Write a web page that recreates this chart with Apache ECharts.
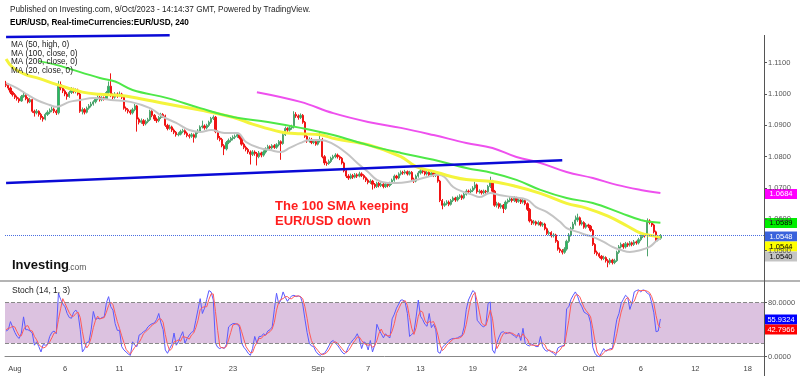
<!DOCTYPE html>
<html>
<head>
<meta charset="utf-8">
<script src="https://cdn.jsdelivr.net/npm/echarts@6/dist/echarts.min.js"></script>
<style>
  html, body { margin: 0; padding: 0; background: #fff; }
  #chart { width: 800px; height: 376px; }
</style>
</head>
<body>
<div id="chart"></div>
<script>
// EUR/USD 4H bars, 31 Jul - 9 Oct 2023
const firstOpen = 1.1035;
const closes = [
  1.1028,1.1019,1.1006,
  1.0998,1.0990,1.0985,1.0978,1.0992,1.0996,
  1.0985,1.0975,1.0982,1.0945,1.0940,1.0945,
  1.0935,1.0925,1.0920,1.0935,1.0942,1.0948,
  1.0952,1.0945,1.0940,1.1030,1.1020,1.1010,
  1.1000,1.0992,1.1005,1.1015,1.1008,1.1012,
  1.1000,1.0945,1.0950,1.0942,1.0955,1.0962,
  1.0968,1.0975,1.0985,1.0990,1.0982,1.0988,
  1.0985,1.1005,1.1025,1.0995,1.0990,1.1000,
  1.0995,1.1000,1.0990,1.0955,1.0950,1.0945,
  1.0940,1.0950,1.0962,1.0920,1.0910,1.0915,
  1.0905,1.0912,1.0918,1.0945,1.0932,1.0920,
  1.0915,1.0925,1.0935,1.0930,1.0900,1.0890,
  1.0895,1.0885,1.0878,1.0870,1.0872,1.0880,
  1.0883,1.0875,1.0868,1.0865,1.0870,1.0862,
  1.0878,1.0882,1.0895,1.0898,1.0892,1.0900,
  1.0910,1.0922,1.0926,1.0880,1.0860,1.0855,
  1.0835,1.0825,1.0845,1.0852,1.0858,1.0862,
  1.0865,1.0870,1.0860,1.0840,1.0830,1.0823,
  1.0815,1.0808,1.0815,1.0810,1.0800,1.0812,
  1.0805,1.0815,1.0825,1.0832,1.0828,1.0835,
  1.0830,1.0838,1.0848,1.0842,1.0870,1.0890,
  1.0885,1.0892,1.0895,1.0935,1.0930,1.0925,
  1.0932,1.0910,1.0865,1.0850,1.0855,1.0845,
  1.0848,1.0840,1.0850,1.0855,1.0800,1.0780,
  1.0778,1.0785,1.0795,1.0800,1.0805,1.0800,
  1.0795,1.0780,1.0755,1.0738,1.0732,1.0740,
  1.0735,1.0742,1.0738,1.0745,1.0740,1.0733,
  1.0725,1.0718,1.0722,1.0712,1.0705,1.0715,
  1.0708,1.0712,1.0705,1.0712,1.0708,1.0715,
  1.0725,1.0738,1.0732,1.0745,1.0750,1.0748,
  1.0752,1.0745,1.0750,1.0728,1.0722,1.0738,
  1.0748,1.0755,1.0752,1.0745,1.0750,1.0742,
  1.0748,1.0740,1.0745,1.0722,1.0660,1.0645,
  1.0650,1.0655,1.0648,1.0660,1.0668,1.0662,
  1.0670,1.0675,1.0668,1.0680,1.0690,1.0688,
  1.0692,1.0700,1.0710,1.0688,1.0690,1.0685,
  1.0690,1.0688,1.0705,1.0722,1.0690,1.0645,
  1.0650,1.0640,1.0645,1.0635,1.0655,1.0660,
  1.0665,1.0660,1.0668,1.0658,1.0662,1.0655,
  1.0660,1.0650,1.0632,1.0595,1.0588,1.0592,
  1.0585,1.0590,1.0582,1.0585,1.0570,1.0555,
  1.0558,1.0548,1.0550,1.0530,1.0505,1.0500,
  1.0495,1.0505,1.0530,1.0550,1.0570,1.0585,
  1.0598,1.0605,1.0585,1.0590,1.0575,1.0582,
  1.0578,1.0565,1.0520,1.0495,1.0490,1.0482,
  1.0475,1.0478,1.0468,1.0462,1.0470,1.0462,
  1.0468,1.0495,1.0512,1.0520,1.0512,1.0522,
  1.0518,1.0525,1.0520,1.0528,1.0525,1.0535,
  1.0545,1.0550,1.0548,1.0595,1.0590,1.0582,
  1.0560,1.0535,1.0540,1.0548
];
const highs = [
  1.1042,1.1033,1.1024,
  1.1010,1.1003,1.0995,1.0989,1.0997,1.1008,
  1.1000,1.0990,1.0988,1.0985,1.0950,1.0952,
  1.0948,1.0940,1.0930,1.0940,1.0948,1.0954,
  1.0960,1.0957,1.0950,1.1042,1.1040,1.1026,
  1.1015,1.1006,1.1010,1.1022,1.1020,1.1018,
  1.1017,1.1004,1.0957,1.0955,1.0960,1.0968,
  1.0975,1.0980,1.0990,1.0996,1.0994,1.0993,
  1.0992,1.1010,1.1040,1.1066,1.1002,1.1006,
  1.1005,1.1008,1.1004,1.0994,1.0960,1.0955,
  1.0950,1.0956,1.0968,1.0965,1.0925,1.0922,
  1.0920,1.0918,1.0924,1.0950,1.0948,1.0936,
  1.0925,1.0930,1.0940,1.0939,1.0934,1.0905,
  1.0902,1.0899,1.0890,1.0882,1.0878,1.0886,
  1.0889,1.0887,1.0880,1.0873,1.0876,1.0874,
  1.0882,1.0888,1.0900,1.0915,1.0903,1.0905,
  1.0915,1.0927,1.0932,1.0930,1.0884,1.0866,
  1.0860,1.0840,1.0850,1.0858,1.0863,1.0868,
  1.0871,1.0876,1.0874,1.0864,1.0845,1.0835,
  1.0828,1.0820,1.0821,1.0820,1.0815,1.0818,
  1.0816,1.0820,1.0830,1.0838,1.0836,1.0840,
  1.0840,1.0843,1.0853,1.0852,1.0875,1.0896,
  1.0894,1.0898,1.0902,1.0945,1.0942,1.0935,
  1.0938,1.0936,1.0914,1.0870,1.0862,1.0860,
  1.0854,1.0852,1.0856,1.0882,1.0860,1.0805,
  1.0785,1.0791,1.0800,1.0806,1.0811,1.0810,
  1.0804,1.0799,1.0784,1.0760,1.0744,1.0746,
  1.0745,1.0748,1.0747,1.0752,1.0750,1.0744,
  1.0737,1.0730,1.0728,1.0726,1.0716,1.0720,
  1.0719,1.0718,1.0716,1.0717,1.0716,1.0720,
  1.0730,1.0743,1.0742,1.0750,1.0756,1.0755,
  1.0758,1.0756,1.0755,1.0754,1.0733,1.0743,
  1.0754,1.0765,1.0760,1.0756,1.0755,1.0754,
  1.0753,1.0752,1.0750,1.0749,1.0726,1.0665,
  1.0657,1.0661,1.0660,1.0665,1.0673,1.0672,
  1.0676,1.0680,1.0679,1.0685,1.0696,1.0695,
  1.0698,1.0706,1.0720,1.0714,1.0696,1.0694,
  1.0695,1.0694,1.0710,1.0736,1.0726,1.0694,
  1.0656,1.0654,1.0651,1.0649,1.0660,1.0666,
  1.0671,1.0669,1.0674,1.0672,1.0668,1.0666,
  1.0666,1.0664,1.0654,1.0636,1.0600,1.0598,
  1.0596,1.0596,1.0594,1.0590,1.0589,1.0574,
  1.0564,1.0562,1.0556,1.0554,1.0534,1.0510,
  1.0505,1.0511,1.0535,1.0556,1.0576,1.0592,
  1.0612,1.0618,1.0609,1.0597,1.0594,1.0588,
  1.0586,1.0582,1.0569,1.0524,1.0500,1.0494,
  1.0486,1.0484,1.0482,1.0473,1.0476,1.0474,
  1.0474,1.0500,1.0518,1.0526,1.0524,1.0528,
  1.0526,1.0531,1.0529,1.0534,1.0532,1.0541,
  1.0551,1.0556,1.0554,1.0603,1.0600,1.0594,
  1.0586,1.0564,1.0546,1.0553
];
const lows = [
  1.1022,1.1012,1.1000,
  1.0992,1.0984,1.0979,1.0972,1.0975,1.0988,
  1.0980,1.0970,1.0971,1.0940,1.0928,1.0935,
  1.0928,1.0918,1.0912,1.0916,1.0930,1.0936,
  1.0942,1.0939,1.0933,1.0935,1.1012,1.1003,
  1.0993,1.0982,1.0988,1.1000,1.1002,1.1002,
  1.0995,1.0940,1.0935,1.0935,1.0938,1.0950,
  1.0957,1.0963,1.0970,1.0980,1.0976,1.0977,
  1.0979,1.0982,1.1000,1.0990,1.0983,1.0985,
  1.0988,1.0990,1.0984,1.0950,1.0944,1.0938,
  1.0934,1.0935,1.0945,1.0880,1.0903,1.0905,
  1.0898,1.0900,1.0907,1.0914,1.0926,1.0914,
  1.0908,1.0910,1.0920,1.0924,1.0895,1.0884,
  1.0886,1.0879,1.0872,1.0864,1.0865,1.0868,
  1.0875,1.0870,1.0862,1.0858,1.0860,1.0845,
  1.0858,1.0873,1.0878,1.0890,1.0886,1.0887,
  1.0895,1.0905,1.0917,1.0875,1.0854,1.0849,
  1.0830,1.0805,1.0820,1.0840,1.0846,1.0852,
  1.0856,1.0860,1.0855,1.0835,1.0824,1.0817,
  1.0809,1.0775,1.0802,1.0803,1.0772,1.0795,
  1.0798,1.0800,1.0810,1.0820,1.0822,1.0823,
  1.0825,1.0825,1.0833,1.0790,1.0838,1.0866,
  1.0879,1.0880,1.0886,1.0890,1.0924,1.0918,
  1.0920,1.0905,1.0860,1.0844,1.0845,1.0840,
  1.0840,1.0835,1.0836,1.0845,1.0795,1.0773,
  1.0771,1.0774,1.0780,1.0790,1.0795,1.0794,
  1.0789,1.0775,1.0750,1.0732,1.0726,1.0728,
  1.0729,1.0731,1.0732,1.0734,1.0735,1.0727,
  1.0719,1.0712,1.0713,1.0695,1.0699,1.0700,
  1.0702,1.0703,1.0699,1.0700,1.0702,1.0703,
  1.0710,1.0720,1.0727,1.0728,1.0740,1.0742,
  1.0743,1.0740,1.0740,1.0722,1.0716,1.0718,
  1.0733,1.0743,1.0746,1.0740,1.0740,1.0737,
  1.0737,1.0735,1.0735,1.0717,1.0655,1.0632,
  1.0640,1.0645,1.0642,1.0644,1.0655,1.0656,
  1.0657,1.0665,1.0662,1.0664,1.0676,1.0682,
  1.0683,1.0687,1.0695,1.0682,1.0682,1.0679,
  1.0680,1.0682,1.0684,1.0700,1.0685,1.0640,
  1.0638,1.0634,1.0634,1.0620,1.0630,1.0650,
  1.0655,1.0654,1.0655,1.0652,1.0653,1.0649,
  1.0650,1.0645,1.0627,1.0590,1.0582,1.0583,
  1.0580,1.0580,1.0577,1.0576,1.0565,1.0550,
  1.0549,1.0542,1.0542,1.0525,1.0500,1.0493,
  1.0488,1.0490,1.0500,1.0525,1.0545,1.0565,
  1.0580,1.0592,1.0580,1.0580,1.0570,1.0570,
  1.0572,1.0560,1.0515,1.0489,1.0484,1.0476,
  1.0469,1.0470,1.0462,1.0447,1.0456,1.0456,
  1.0457,1.0464,1.0490,1.0507,1.0506,1.0507,
  1.0512,1.0513,1.0514,1.0515,1.0519,1.0520,
  1.0530,1.0540,1.0542,1.0482,1.0584,1.0576,
  1.0555,1.0530,1.0530,1.0535
];

// moving averages, read as [bar, price] points
const ma50High = [[0,1.1112],[3,1.1085],[9,1.1062],[15,1.1050],[23,1.1031],[35,1.1006],[43,1.0999],
  [51,1.0996],[58,1.0990],[74,1.0968],[89,1.0949],[104,1.0926],[113,1.0904],[126,1.0879],[135,1.0873],
  [144,1.0870],[151,1.0857],[166,1.0838],[181,1.0800],[188,1.0768],[196,1.0753],[204,1.0737],
  [211,1.0727],[223,1.0721],[234,1.0705],[245,1.0683],[257,1.0651],[266,1.0636],[276,1.0610],
  [285,1.0578],[291,1.0556],[300,1.0544]];
const ma100 = [[15,1.1105],[23,1.1093],[43,1.1051],[50,1.1040],[58,1.1013],[74,1.0987],[89,1.0955],
  [104,1.0927],[120,1.0911],[135,1.0892],[150,1.0869],[166,1.0837],[181,1.0812],[196,1.0790],
  [211,1.0764],[223,1.0748],[234,1.0726],[245,1.0694],[257,1.0668],[269,1.0652],[282,1.0620],
  [291,1.0598],[300,1.0589]];
const ma200 = [[115,1.1006],[135,1.0975],[150,1.0939],[166,1.0911],[181,1.0892],[196,1.0869],
  [211,1.0844],[223,1.0828],[234,1.0799],[245,1.0780],[257,1.0751],[269,1.0732],[280,1.0710],
  [291,1.0694],[300,1.0684]];
const ma20 = [[0,1.1035],[5,1.1019],[10,1.0997],[14,1.0981],[20,1.0965],[23,1.0959],[29,1.0975],
  [34,1.0981],[40,1.0987],[48,1.0981],[57,1.0975],[66,1.0955],[72,1.0927],[78,1.0908],[84,1.0885],
  [89,1.0879],[94,1.0885],[100,1.0876],[106,1.0876],[110,1.0847],[116,1.0828],[121,1.0821],
  [126,1.0815],[130,1.0828],[135,1.0844],[139,1.0853],[144,1.0853],[149,1.0844],[156,1.0812],
  [161,1.0780],[166,1.0751],[170,1.0726],[175,1.0716],[179,1.0716],[184,1.0719],[188,1.0726],
  [193,1.0735],[198,1.0742],[201,1.0735],[205,1.0703],[210,1.0687],[214,1.0678],[217,1.0671],
  [222,1.0684],[226,1.0678],[232,1.0671],[239,1.0662],[243,1.0639],[248,1.0623],[254,1.0592],
  [257,1.0572],[262,1.0560],[266,1.0550],[269,1.0544],[274,1.0528],[278,1.0512],[282,1.0502],
  [286,1.0496],[291,1.0502],[295,1.0512],[298,1.0530],[300,1.0540]];

// drawn trend lines
const trendTop = [[0,1.1182],[75,1.1188]];
const trendLow = [[0,1.0716],[255,1.0789]];

// Stochastic (14,1,3)
const stochK = [
  38,40,52, 44,36,30,27,35,59, 40,40,38,35,17,22, 15,7,18,17,18,30, 36,38,34,94,85,78,
  74,64,58,57,66,69, 64,40,7,12,21,22, 40,67,55,57,56,58, 59,80,89,74,69,49, 39,39,15,10,7,4,
  2,22,17,15,32,34, 37,39,44,47,49,50, 55,64,50,40,10,5, 12,18,35,17,22,30, 37,20,27,32,36,38,
  54,70,86,64,72,85, 98,96,84,20,14,12, 14,12,18,44,47,49, 49,48,44,20,14,10, 5,2,12,30,20,30,
  30,34,32,38,40,44, 70,94,78,84,96,88, 82,87,90,91,89,90, 89,78,56,36,20,16, 15,8,4,2,4,5,
  10,16,22,24,20,17, 12,7,4,7,15,20, 25,28,34,26,12,22, 20,10,24,7,17,48, 40,34,28,34,30,28,
  56,63,72,78,84,84, 80,64,30,33,36,59, 84,60,55,48,45,64, 43,48,40,7,5,14, 17,20,24,26,27,27,
  28,30,31,44,70,84, 91,98,95,54,50,46, 44,48,79,81,10,5, 20,29,36,37,34,35, 36,33,31,28,35,24,
  42,20,17,16,19,17, 15,15,30,15,10,8, 10,7,5,2,13,15, 16,17,71,74,85,91, 96,90,80,74,66,64,
  62,50,14,5,1,0, 6,12,8,10,12,12, 35,55,64,79,85,91, 88,70,80,96,98,99, 96,99,98,94,92,80,
  65,37,38,55.93
];
const stochD = [
  40,42,43, 45,44,37,31,31,40, 45,46,39,38,30,25, 18,15,13,14,18,22, 28,35,36,55,71,86,
  79,72,65,60,60,64, 66,58,37,20,13,18, 28,43,54,60,56,57, 58,66,76,81,77,64, 52,42,31,21,11,7,
  4,9,14,18,21,27, 34,37,40,43,47,49, 51,56,56,51,33,18, 9,12,22,23,25,23, 30,29,28,26,32,35,
  43,54,70,73,74,74, 85,93,93,67,39,15, 13,13,15,25,36,47, 48,49,47,37,26,15, 10,6,6,15,21,27,
  27,31,32,35,37,41, 51,69,81,85,86,89, 89,86,86,89,90,90, 89,86,74,57,37,24, 17,13,9,5,3,4,
  6,10,16,21,22,20, 16,12,8,6,9,14, 20,24,29,29,24,20, 18,17,18,14,16,24, 35,41,34,32,31,31,
  38,49,64,71,78,82, 83,76,58,42,33,43, 60,68,66,54,49,52, 51,52,44,32,17,9, 12,17,20,23,26,27,
  27,28,30,35,48,66, 82,91,95,82,66,50, 47,46,57,69,57,32, 12,18,28,34,36,35, 35,35,33,31,31,29,
  34,29,26,18,17,17, 17,16,20,20,18,11, 9,8,7,5,7,10, 15,16,35,54,77,83, 91,92,89,81,73,68,
  64,59,42,23,7,2, 2,6,9,10,10,11, 20,34,51,66,76,85, 88,83,79,82,91,98, 98,98,98,97,95,89,
  79,61,47,42.80
];

const lastPrice = 1.0548;
const SLOTS = 348;
const xTickIdx = [4, 27, 52, 79, 104, 143, 166, 190, 214, 237, 267, 291, 316, 340];
const xTickText = ['Aug', '6', '11', '17', '23', 'Sep', '7', '13', '19', '24', 'Oct', '6', '12', '18'];
const priceTicks = [1.05, 1.06, 1.07, 1.08, 1.09, 1.10, 1.11];
const stochTicks = [0, 80];

const FONT = 'Liberation Sans, Arial, sans-serif';
const categories = [];
for (let i = 0; i < SLOTS; i++) categories.push(String(i));

const ohlc = closes.map((c, i) => {
  const o = i === 0 ? firstOpen : closes[i - 1];
  return [o, c, lows[i], highs[i]];
});

const chart = echarts.init(document.getElementById('chart'));

const maLine = (data, color, width) => ({
  type: 'line', data, xAxisIndex: 0, yAxisIndex: 0, showSymbol: false, smooth: 0.4,
  lineStyle: { color, width }, silent: true, z: 3
});

const txt = (x, y, text, size, extra) => ({
  type: 'text', x, y, z: 50,
  style: Object.assign({ text, fontSize: size, fontFamily: FONT, fill: '#222', align: 'left', verticalAlign: 'top' }, extra || {})
});

const tag = (y, bg, fg, text) => ({
  type: 'group', z: 60,
  children: [
    { type: 'rect', shape: { x: 765, y: y - 5, width: 32, height: 10 }, style: { fill: bg } },
    { type: 'text', x: 781, y: y, style: { text, fill: fg, fontSize: 7.5, fontFamily: FONT, align: 'center', verticalAlign: 'middle' } }
  ]
});

const option = {
  animation: false,
  backgroundColor: '#fff',
  grid: [
    { left: 5, right: 36, top: 33, height: 249 },
    { left: 5, right: 36, top: 283, height: 78 }
  ],
  xAxis: [
    { type: 'category', data: categories, gridIndex: 0, boundaryGap: true, show: false },
    {
      type: 'category', data: categories, gridIndex: 1, boundaryGap: true,
      axisLine: { show: true, lineStyle: { color: '#888' } },
      axisTick: { show: false },
      axisLabel: {
        interval: (idx) => xTickIdx.includes(idx),
        formatter: (v, idx) => xTickText[xTickIdx.indexOf(idx)] || '',
        color: '#444', fontSize: 7.5, fontFamily: FONT, margin: 4
      }
    }
  ],
  yAxis: [
    {
      type: 'value', gridIndex: 0, position: 'right', min: 1.04, max: 1.11948, scale: true,
      splitLine: { show: false },
      axisLine: { show: false },
      axisTick: { show: true, length: 3, customValues: priceTicks, lineStyle: { color: '#555' } },
      axisLabel: { customValues: priceTicks, formatter: (v) => v.toFixed(4), color: '#555', fontSize: 7.5, fontFamily: FONT, margin: 4 }
    },
    {
      type: 'value', gridIndex: 1, position: 'right', min: -6.4, max: 109.2,
      splitLine: { show: false },
      axisLine: { show: false },
      axisTick: { show: true, length: 3, customValues: stochTicks, lineStyle: { color: '#555' } },
      axisLabel: { customValues: stochTicks, formatter: (v) => v.toFixed(4), color: '#555', fontSize: 7.5, fontFamily: FONT, margin: 4 }
    }
  ],
  series: [
    {
      type: 'candlestick', data: ohlc, xAxisIndex: 0, yAxisIndex: 0, barWidth: 1.8, z: 2,
      itemStyle: { color: '#22c060', color0: '#f01414', borderColor: '#4fa36e', borderColor0: '#f01414', borderWidth: 1 },
      markLine: {
        silent: true, symbol: 'none', precision: 6, label: { show: false },
        lineStyle: { type: 'dotted', color: '#4a6ee0', width: 1 },
        data: [{ yAxis: lastPrice }]
      }
    },
    maLine(ma20, '#c4c4c4', 2),
    maLine(ma50High, '#f4f43c', 3),
    maLine(ma100, '#4ee848', 2),
    maLine(ma200, '#ee50ee', 2),
    { type: 'line', data: trendTop, xAxisIndex: 0, yAxisIndex: 0, showSymbol: false, silent: true, z: 4,
      lineStyle: { color: '#0a0ad6', width: 2.5 } },
    { type: 'line', data: trendLow, xAxisIndex: 0, yAxisIndex: 0, showSymbol: false, silent: true, z: 4,
      lineStyle: { color: '#0a0ad6', width: 2.5 } },
    {
      type: 'line', data: stochK, xAxisIndex: 1, yAxisIndex: 1, showSymbol: false, silent: true, z: 3,
      lineStyle: { color: '#5a5aff', width: 1 },
      markArea: { silent: true, itemStyle: { color: '#dcc2e0' }, data: [[{ yAxis: 20 }, { yAxis: 80 }]] },
      markLine: {
        silent: true, symbol: 'none', label: { show: false },
        lineStyle: { type: 'dashed', color: '#888', width: 1 },
        data: [{ yAxis: 20 }, { yAxis: 80 }]
      }
    },
    { type: 'line', data: stochD, xAxisIndex: 1, yAxisIndex: 1, showSymbol: false, silent: true, z: 3,
      lineStyle: { color: '#ff5a5a', width: 1 } }
  ],
  graphic: [
    txt(10, 6, 'Published on Investing.com, 9/Oct/2023 - 14:14:37 GMT, Powered by TradingView.', 8.2),
    txt(10, 19, 'EUR/USD, Real-timeCurrencies:EUR/USD, 240', 8.2, { fontWeight: 'bold', fill: '#000' }),
    txt(11, 40.5, 'MA (50, high, 0)', 8.2),
    txt(11, 49.3, 'MA (100, close, 0)', 8.2),
    txt(11, 58.1, 'MA (200, close, 0)', 8.2),
    txt(11, 66.9, 'MA (20, close, 0)', 8.2),
    txt(275, 200, 'The 100 SMA keeping', 13, { fontWeight: 'bold', fill: '#ff1e1e' }),
    txt(275, 215, 'EUR/USD down', 13, { fontWeight: 'bold', fill: '#ff1e1e' }),
    txt(12, 259, 'Investing', 13, { fontWeight: 'bold', fill: '#111' }),
    txt(68, 263, '.com', 8.5, { fill: '#555' }),
    txt(12, 286, 'Stoch (14, 1, 3)', 8.5),
    { type: 'line', z: 40, shape: { x1: 0, y1: 281, x2: 800, y2: 281 }, style: { stroke: '#b4b4b4', lineWidth: 2 } },
    { type: 'line', z: 40, shape: { x1: 764.5, y1: 35, x2: 764.5, y2: 376 }, style: { stroke: '#555', lineWidth: 1 } },
    tag(194, '#ff00ff', '#fff', '1.0684'),
    tag(223, '#00ee00', '#000', '1.0589'),
    tag(236.5, '#3a62dc', '#fff', '1.0548'),
    tag(246.5, '#ffff00', '#000', '1.0544'),
    tag(256.5, '#c4c4c4', '#000', '1.0540'),
    tag(319.5, '#0000ff', '#fff', '55.9324'),
    tag(329.5, '#ff0000', '#fff', '42.7966')
  ]
};

chart.setOption(option);
</script>
</body>
</html>
